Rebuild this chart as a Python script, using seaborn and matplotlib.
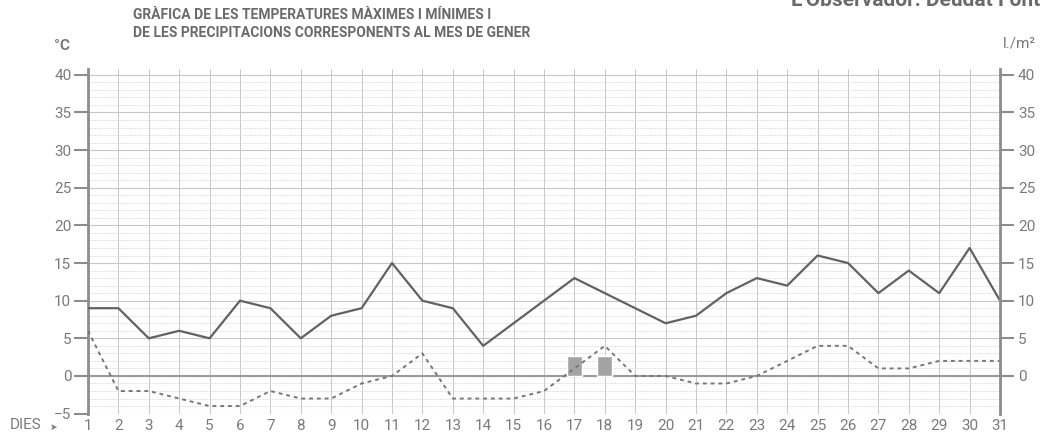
import matplotlib
matplotlib.use("Agg")
import matplotlib.pyplot as plt
from matplotlib.ticker import MultipleLocator
import seaborn as sns
import pandas as pd

# Dades del mes de gener
dies = list(range(1, 32))
t_max = [9, 9, 5, 6, 5, 10, 9, 5, 8, 9, 15, 10, 9, 4, 7, 10, 13, 11, 9, 7, 8,
         11, 13, 12, 16, 15, 11, 14, 11, 17, 10]
t_min = [6, -2, -2, -3, -4, -4, -2, -3, -3, -1, 0, 3, -3, -3, -3, -2, 1, 4, 0, 0, -1,
         -1, 0, 2, 4, 4, 1, 1, 2, 2, 2]
dies_pluja = [17, 18]
pluja = [2.7, 2.7]
ticks_esq = list(range(-5, 41, 5))
ticks_dre = list(range(0, 41, 5))

df = pd.DataFrame({"dia": dies, "max": t_max, "min": t_min})
df_pluja = pd.DataFrame({"dia": dies_pluja, "pluja": pluja})

sns.set_theme(style="white")
plt.rcParams["font.family"] = ["Liberation Sans Narrow", "Roboto", "DejaVu Sans"]

gris_text = "#7a7a7a"
gris_eix = "#8c8c8c"
y_top = 40.8

fig = plt.figure(figsize=(10.46, 4.34), dpi=100)
ax = fig.add_axes([88 / 1046, 1 - 413.6 / 434, 912 / 1046, (413.6 - 68.8) / 434])

# Quadricula
ax.set_xlim(1, 31)
ax.set_ylim(-5, y_top)
ax.yaxis.set_minor_locator(MultipleLocator(1))
ax.grid(which="minor", axis="y", color="#d2d2d2", lw=0.6, ls=(0, (1, 1)))
ax.grid(which="major", axis="y", color="#c8c8c8", lw=0.8)
ax.grid(which="major", axis="x", color="#c8c8c8", lw=0.7)
ax.axhline(0, color="#9a9a9a", lw=1.5, zorder=2)

# Precipitacions
ax.bar(df_pluja["dia"], df_pluja["pluja"], width=0.5, color="#a3a3a3", zorder=3)

# Temperatures
sns.lineplot(data=df, x="dia", y="max", color="#626262", lw=1.6, ax=ax, zorder=4)
sns.lineplot(data=df, x="dia", y="min", color="#777777", lw=1.4, ax=ax, zorder=4,
             linestyle=(0, (2, 2)))

ax.set_xlim(1, 31)
ax.set_ylim(-5, y_top)
ax.set_xticks(dies)
ax.set_yticks(ticks_esq)
ax.set_yticklabels([str(t).replace("-", "\u2212") for t in ticks_esq])
ax.set_xlabel("")
ax.set_ylabel("")

for s in ["top", "bottom", "right"]:
    ax.spines[s].set_visible(False)
ax.spines["left"].set_color(gris_eix)
ax.spines["left"].set_linewidth(2)
ax.tick_params(axis="y", which="major", direction="out", length=10, width=1.5,
               color=gris_eix, labelcolor=gris_text, labelsize=11, pad=2, left=True)
ax.tick_params(axis="y", which="minor", length=0)
ax.tick_params(axis="x", length=0, labelcolor=gris_text, labelsize=11, pad=4)

# Eix dret (l./m2)
ax2 = ax.twinx()
ax2.set_ylim(-5, y_top)
ax2.set_yticks(ticks_dre)
for s in ["top", "bottom", "left"]:
    ax2.spines[s].set_visible(False)
ax2.spines["right"].set_color(gris_eix)
ax2.spines["right"].set_linewidth(2)
ax2.tick_params(axis="y", direction="out", length=10, width=1.5, color=gris_eix,
                labelcolor=gris_text, labelsize=11, pad=3, right=True)
ax2.grid(False)

# Textos
fig.text(133 / 1046, 1 - 24 / 434,
         "GRÀFICA DE LES TEMPERATURES MÀXIMES I MÍNIMES I\n"
         "DE LES PRECIPITACIONS CORRESPONENTS AL MES DE GENER",
         ha="left", va="center", fontsize=10, fontweight="bold", color="#6a6a6a",
         linespacing=1.45)
fig.text(1040 / 1046, 1 - 10 / 434, "L'Observador: Deudat Font", ha="right", va="bottom",
         fontsize=15, fontweight="bold", color="#6a6a6a")
fig.text(70 / 1046, 1 - 46 / 434, "°C", ha="right", va="center", fontsize=11,
         fontweight="bold", color=gris_text)
fig.text(1003 / 1046, 1 - 44 / 434, "l./m²", ha="left", va="center", fontsize=11,
         color=gris_text)
fig.text(10 / 1046, 1 - 425 / 434, "DIES", ha="left", va="center", fontsize=11,
         color=gris_text)
fig.text(50 / 1046, 1 - 427 / 434, "➤", ha="left", va="center", fontsize=6.5,
         color=gris_text, family=["DejaVu Sans"])

fig.savefig("out.png", dpi=100)
